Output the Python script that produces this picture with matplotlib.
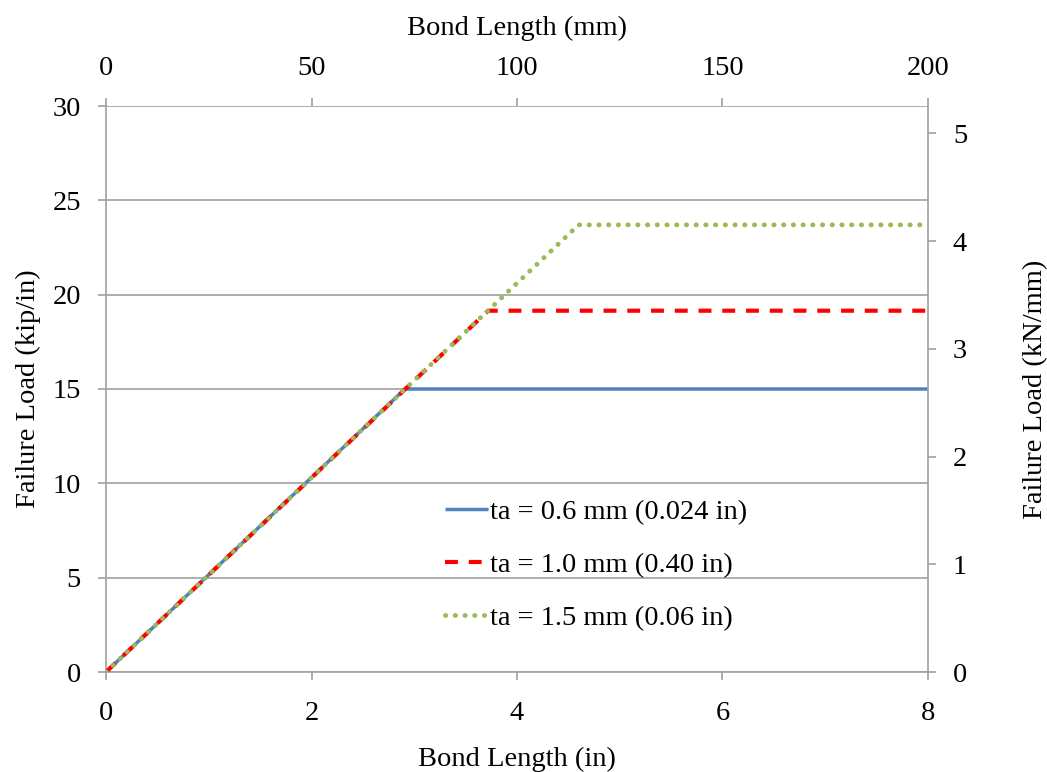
import matplotlib
matplotlib.use("Agg")
import matplotlib.pyplot as plt
import numpy as np

plt.rcParams['font.family'] = ['Liberation Serif', 'DejaVu Serif']

# Data (bond length in inches, failure load in kip/in)
x_06 = [0, 2.91, 8]
y_06 = [0, 15.0, 15.0]
x_10 = [0, 3.72, 8]
y_10 = [0, 19.15, 19.15]
x_15 = [0, 4.6, 8]
y_15 = [0, 23.7, 23.7]

labels = ["ta = 0.6 mm (0.024 in)", "ta = 1.0 mm (0.40 in)", "ta = 1.5 mm (0.06 in)"]
colors = ["#4f81bd", "#ff0000", "#9bbb59"]

FS = 20.5
fig = plt.figure(figsize=(10.47, 7.72), dpi=100)
ax = fig.add_axes([106/1047, 1-672/772, (928-106)/1047, (672-106)/772])

spine_c = "#a0a0a0"
ax.plot(x_06, y_06, color=colors[0], lw=2.5, label=labels[0], solid_capstyle='butt', zorder=3)
ax.plot(x_10, y_10, color=colors[1], lw=3, ls=(0, (3.1, 2.6)), label=labels[1], zorder=4)
ax.plot(x_15, y_15, color=colors[2], lw=3.5, ls=(0, (0.05, 1.95)), dash_capstyle='round', label=labels[2], zorder=5)

ax.set_xlim(0, 8)
ax.set_ylim(0, 30)
ax.set_xticks([0, 2, 4, 6, 8])
ax.set_yticks([0, 5, 10, 15, 20, 25, 30])
ax.yaxis.grid(True, color=spine_c, lw=1.2)
ax.set_axisbelow(True)
for s in ['top', 'right']:
    ax.spines[s].set_visible(False)
for s in ['left', 'bottom']:
    ax.spines[s].set_color(spine_c)
    ax.spines[s].set_linewidth(1.2)
ax.tick_params(axis='both', colors=spine_c, labelcolor='black', labelsize=FS, length=6, width=1.2, direction='out')
ax.tick_params(axis='y', pad=12)
ax.tick_params(axis='x', pad=15)
ax.set_xlabel("Bond Length (in)", fontsize=FS, labelpad=15)
ax.set_ylabel("Failure Load (kip/in)", fontsize=FS, labelpad=8)

# Top axis (mm)
axt = ax.twiny()
axt.set_xlim(0, 200)
axt.set_xticks([0, 50, 100, 150, 200])
axt.set_xlabel("Bond Length (mm)", fontsize=FS, labelpad=15)
for s in ['top', 'right', 'bottom', 'left']:
    axt.spines[s].set_visible(False)
axt.tick_params(axis='x', colors=spine_c, labelcolor='black', labelsize=FS, length=6, width=1.2, pad=12)

# Right axis (kN/mm)
axr = ax.twinx()
axr.set_ylim(0, 30 * 0.17513)
axr.set_yticks([0, 1, 2, 3, 4, 5])
for s in ['top', 'left', 'bottom']:
    axr.spines[s].set_visible(False)
axr.spines['right'].set_color(spine_c)
axr.spines['right'].set_linewidth(1.2)
axr.tick_params(axis='y', colors=spine_c, labelcolor='black', labelsize=FS, length=6, width=1.2, pad=12)
axr.set_ylabel("Failure Load (kN/mm)", fontsize=FS, labelpad=40)

leg = ax.legend(loc='upper left', bbox_to_anchor=(328/822, 1-(488-106)/566), frameon=False,
                fontsize=FS, handlelength=1.5, handletextpad=0.05, labelspacing=0.95, borderaxespad=0)

fig.savefig("out.png", dpi=100)
